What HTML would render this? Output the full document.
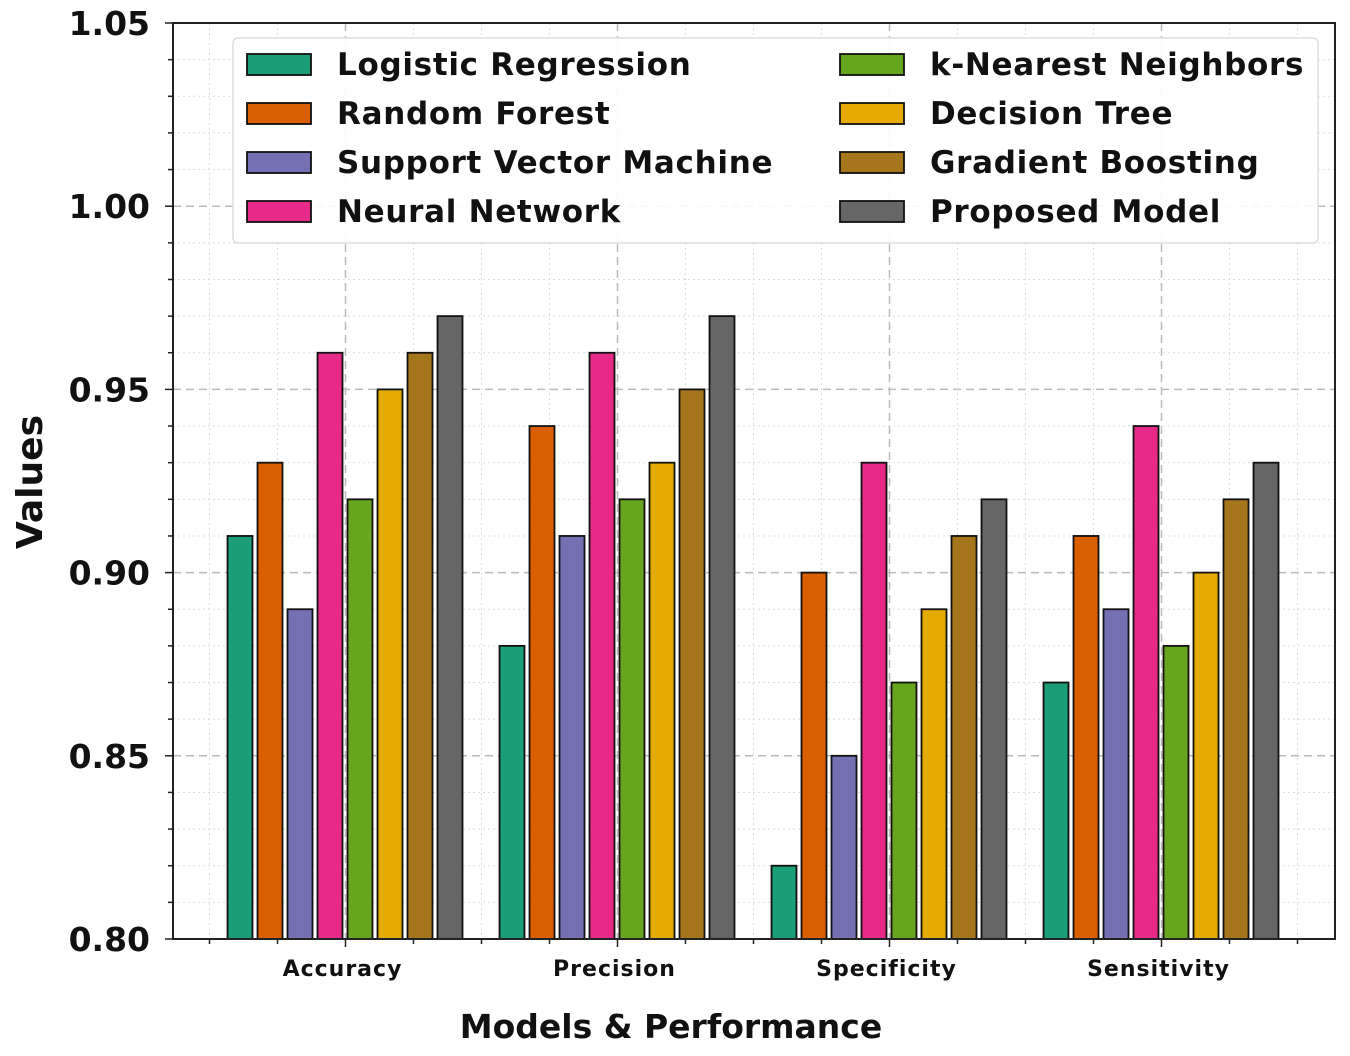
<!DOCTYPE html>
<html><head><meta charset="utf-8"><style>
body{margin:0;background:#fff}
svg text{font-family:"DejaVu Sans","Liberation Sans",sans-serif;font-weight:bold;fill:#111}
</style></head><body>
<svg id="c" width="1350" height="1051"></svg>
<script>
const categories=["Accuracy","Precision","Specificity","Sensitivity"];
const models=["Logistic Regression","Random Forest","Support Vector Machine","Neural Network","k-Nearest Neighbors","Decision Tree","Gradient Boosting","Proposed Model"];
const colors=["#1b9e77","#d95f02","#7570b3","#e7298a","#66a61e","#e6ab02","#a6761d","#666666"];
const logistic=[0.91,0.88,0.82,0.87];
const randomForest=[0.93,0.94,0.90,0.91];
const svm=[0.89,0.91,0.85,0.89];
const neural=[0.96,0.96,0.93,0.94];
const knn=[0.92,0.92,0.87,0.88];
const tree=[0.95,0.93,0.89,0.90];
const boosting=[0.96,0.95,0.91,0.92];
const proposed=[0.97,0.97,0.92,0.93];
const series=[logistic,randomForest,svm,neural,knn,tree,boosting,proposed];
const yTicks=["0.80","0.85","0.90","0.95","1.00","1.05"];
const L=173,R=1335,T=23,B=939,ymin=0.80,ymax=1.05;
const y=v=>B-(v-ymin)/(ymax-ymin)*(B-T);
const xc=i=>345.5+272*i;
const NS="http://www.w3.org/2000/svg";
const svg=document.getElementById('c');
function mk(t,a,p){const e=document.createElementNS(NS,t);for(const k in a)e.setAttribute(k,a[k]);(p||svg).appendChild(e);return e;}
for(let v=0;v<=25;v++){const val=ymin+v*0.01;const yy=y(val);
 if(v%5===0){if(v>0&&v<25){const g=mk('line',{x1:L,x2:R,y1:yy,y2:yy,stroke:'#bbb','stroke-dasharray':'8,5','stroke-width':1.5});}}
 else{const g=mk('line',{x1:L,x2:R,y1:yy,y2:yy,stroke:'#ddd','stroke-dasharray':'2,3','stroke-width':1});}
 const tk=mk('line',{x1:L-(v%5===0?8:5),x2:L,y1:yy,y2:yy,stroke:'#222','stroke-width':1.5});}
for(let k=-2;k<=14;k++){const xx=xc(0)+68*k;if(xx<=L||xx>=R)continue;
 const major=(k%4===0);
 const g=mk('line',{x1:xx,x2:xx,y1:T,y2:B,stroke:major?'#bbb':'#ddd','stroke-dasharray':major?'8,5':'2,3','stroke-width':major?1.5:1});
 
 const tk=mk('line',{x1:xx,x2:xx,y1:B,y2:B+(major?8:5),stroke:'#222','stroke-width':1.5});}
const bw=25,stride=30;
categories.forEach((c,i)=>{series.forEach((s,j)=>{
 const x0=xc(i)-120+stride*j+2;
 const r=mk('rect',{x:x0,y:y(s[i]),width:bw,height:B-y(s[i]),fill:colors[j],stroke:'#111','stroke-width':1.8});
 
 
});
 const t=mk('text',{x:xc(i)-3,y:976,'text-anchor':'middle','font-size':22,'letter-spacing':1});t.textContent=c;
 
});
const f=mk('rect',{x:L,y:T,width:R-L,height:B-T,fill:'none',stroke:'#222','stroke-width':2});

yTicks.forEach(t=>{const e=mk('text',{x:150,y:y(+t)+12,'text-anchor':'end','font-size':33});e.textContent=t;
 });
const yl=mk('text',{x:0,y:0,transform:'translate(42,482) rotate(-90)','text-anchor':'middle','font-size':36});yl.textContent='Values';

const xl=mk('text',{x:671,y:1038,'text-anchor':'middle','font-size':33});xl.textContent='Models & Performance';

const lg=mk('g',{});
mk('rect',{x:233,y:38,width:1085,height:205,rx:5,fill:'rgba(255,255,255,0.9)',stroke:'#ddd','stroke-width':1.5},lg);
models.forEach((m,j)=>{const col=j<4?0:1,row=j%4;const px=col?840:247,py=54+row*49;
 const g=mk('g',{},lg);
 mk('rect',{x:px,y:py,width:64,height:21,fill:colors[j],stroke:'#111','stroke-width':1.8},g);
 const t=mk('text',{x:px+90,y:py+21,'font-size':31,'letter-spacing':0.7},g);t.textContent=m;});
</script>
</body></html>
